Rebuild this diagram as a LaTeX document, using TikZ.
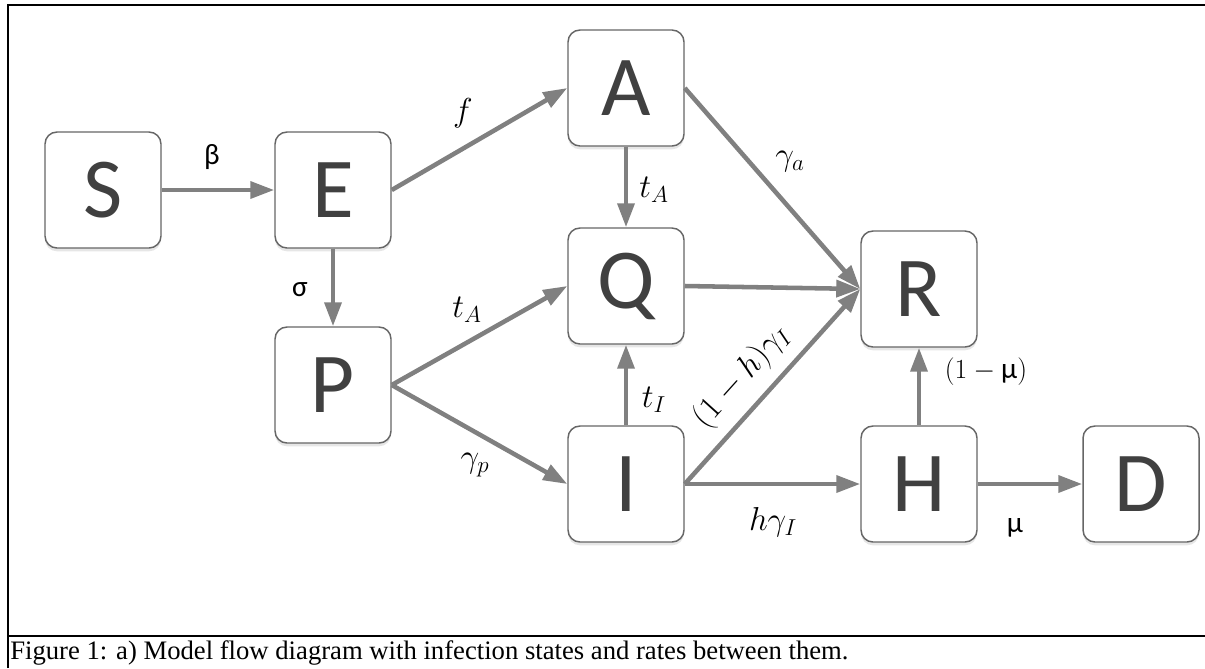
\documentclass[tikz,border=0pt]{standalone}
\usepackage{fontspec}
\usepackage{amsmath}
\setmainfont{Carlito}
\newfontfamily\captionfont{Liberation Serif}
\usetikzlibrary{arrows.meta,positioning,calc,shadows}

\begin{document}
\begin{tikzpicture}[x=0.75pt, y=-0.75pt,
  state/.style={draw=black!60, line width=1.1pt, fill=white, rounded corners=9pt,
    minimum width=87pt, minimum height=87pt, inner sep=0pt,
    font=\fontsize{64}{64}\selectfont, text=black!75,
    drop shadow={shadow xshift=0pt, shadow yshift=-2.5pt, opacity=0.2}},
  flow/.style={draw=black!50, line width=3.4pt, -{Triangle[length=18pt,width=12.5pt]}},
  rate/.style={font=\fontsize{24}{28}\selectfont, inner sep=1pt},
  grk/.style={font=\fontsize{22}{25}\selectfont, inner sep=1pt}]

\useasboundingbox (0,0) rectangle (1205,668);

% Frame and caption
\draw[line width=1.7pt] (8,668) -- (8,5) -- (1205,5);
\draw[line width=1.7pt] (8,636) -- (1205,636);
\node[anchor=west, inner sep=0pt, font=\captionfont\fontsize{20}{23}\selectfont] (caption) at (10,653)
  {Figure 1: a) Model flow diagram with infection states and rates between them.};

% States
\node[state] (S) at (103,190) {S};
\node[state] (E) at (333,190) {E};
\node[state] (P) at (333,385) {P};
\node[state] (A) at (626,88) {A};
\node[state] (Q) at (626,286) {Q};
\node[state] (I) at (626,484) {I};
\node[state] (R) at (919,289) {R};
\node[state] (H) at (919,484) {H};
\node[state] (D) at (1141,484) {D};

% Flows
\draw[flow] (S) -- (E);
\draw[flow] (E.east) -- (A.west);
\draw[flow] (E) -- (P);
\draw[flow] (A) -- (Q);
\draw[flow] (A.east) -- (R.west);
\draw[flow] (Q.east) -- (R.west);
\draw[flow] (P.east) -- (Q.west);
\draw[flow] (P.east) -- (I.west);
\draw[flow] (I) -- (Q);
\draw[flow] (I.east) -- (R.west)
  node[rate, sloped, pos=0.45, above=7pt] (lIR) {$(1-h)\gamma_I$};
\draw[flow] (I.east) -- (H.west);
\draw[flow] (H) -- (R);
\draw[flow] (H) -- (D);

% Rates
\node[grk] (lSE) at (212,157) {β};
\node[rate] (lEA) at (463,113) {$f$};
\node[grk] (lEP) at (300,290) {σ};
\node[rate] (lAQ) at (654,190) {$t_A$};
\node[rate] (lAR) at (790,162) {$\gamma_a$};
\node[rate] (lPQ) at (467,310) {$t_A$};
\node[rate] (lPI) at (475,465) {$\gamma_p$};
\node[rate] (lIQ) at (654,400) {$t_I$};
\node[rate] (lIH) at (773,522) {$h\gamma_I$};
\node[grk] (lHR) at (986,372) {$(1-\text{μ})$};
\node[grk] (lHD) at (1015,528) {μ};

\end{tikzpicture}
\end{document}
